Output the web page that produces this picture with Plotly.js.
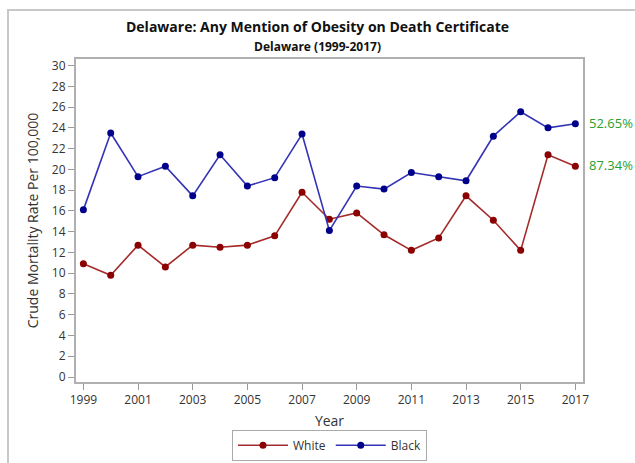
<!DOCTYPE html>
<html><head><meta charset="utf-8">
<script src="https://cdn.plot.ly/plotly-3.0.1.min.js"></script>
<style>
html,body{margin:0;padding:0;background:#fff;}
#wrap{position:relative;width:635px;height:463px;overflow:hidden;}
#frame{position:absolute;left:7px;top:9px;width:700px;height:500px;border-left:2px solid #c8c8c8;border-top:2px solid #c8c8c8;pointer-events:none;}
#chart{position:absolute;left:0;top:0;width:635px;height:463px;}
</style></head>
<body>
<div id="wrap"><div id="chart"></div><div id="frame"></div></div>
<script>
const years = [1999,2000,2001,2002,2003,2004,2005,2006,2007,2008,2009,2010,2011,2012,2013,2014,2015,2016,2017];
const white = [10.9,9.8,12.7,10.6,12.7,12.5,12.7,13.6,17.8,15.2,15.8,13.7,12.2,13.4,17.45,15.1,12.2,21.4,20.3];
const black = [16.1,23.5,19.3,20.3,17.45,21.4,18.4,19.2,23.4,14.1,18.4,18.1,19.7,19.3,18.9,23.2,25.55,24.0,24.4];
const seriesNames = ["White","Black"];
const changeLabels = ["52.65%","87.34%"];
const xTicks = [1999,2001,2003,2005,2007,2009,2011,2013,2015,2017];
const yTicks = [0,2,4,6,8,10,12,14,16,18,20,22,24,26,28,30];

const font = "Open Sans, DejaVu Sans, sans-serif";
const traces = [
  {x: years, y: white, name: seriesNames[0], type: "scatter", mode: "lines+markers",
   line: {color: "#a52a2a", width: 1.6}, marker: {color: "#8b0000", size: 7}},
  {x: years, y: black, name: seriesNames[1], type: "scatter", mode: "lines+markers",
   line: {color: "#3333b5", width: 1.6}, marker: {color: "#00008b", size: 7}}
];
const layout = {
  width: 635, height: 463,
  margin: {l: 76, r: 52, t: 59, b: 81},
  paper_bgcolor: "#fff", plot_bgcolor: "#fff",
  font: {family: font, color: "#333", size: 12},
  title: {text: "<b>Delaware: Any Mention of Obesity on Death Certificate</b><br><span style='font-size:12px'><b>Delaware (1999-2017)</b></span>",
          x: 0.5, xref: "container", y: 0.93, yref: "container", yanchor: "top",
          font: {family: font, size: 14, color: "#111"}},
  xaxis: {range: [1998.73, 2017.28], tickvals: xTicks, ticks: "outside", ticklen: 6, tickcolor: "#999",
          showline: true, mirror: true, linecolor: "#b0b0b0", linewidth: 2, showgrid: false, zeroline: false,
          automargin: false, tickfont: {size: 12, color: "#333"},
          title: {text: "Year", font: {size: 14, color: "#333"}, standoff: 14}},
  yaxis: {range: [-0.48, 30.63], tickvals: yTicks, ticks: "outside", ticklen: 6, tickcolor: "#999",
          showline: true, mirror: true, linecolor: "#b0b0b0", linewidth: 2, showgrid: false, zeroline: false,
          automargin: false, tickfont: {size: 12, color: "#333"},
          title: {text: "Crude Mortality Rate Per 100,000", font: {size: 14, color: "#333"}, standoff: 10}},
  showlegend: true,
  legend: {orientation: "h", x: 0.5, xref: "paper", xanchor: "center", y: 0.005, yref: "container", yanchor: "bottom",
           bordercolor: "#aaa", borderwidth: 1, font: {size: 12, color: "#333"},
           itemwidth: 50, tracegroupgap: 0},
  annotations: [
    {x: 1, xref: "paper", xanchor: "left", xshift: 4, y: black[black.length-1], yref: "y", yshift: 1,
     text: changeLabels[0], showarrow: false, font: {size: 13, color: "#2ca02c", family: font}},
    {x: 1, xref: "paper", xanchor: "left", xshift: 4, y: white[white.length-1], yref: "y", yshift: 1,
     text: changeLabels[1], showarrow: false, font: {size: 13, color: "#2ca02c", family: font}}
  ]
};
Plotly.newPlot("chart", traces, layout, {displayModeBar: false, staticPlot: true});
</script>
</body></html>
